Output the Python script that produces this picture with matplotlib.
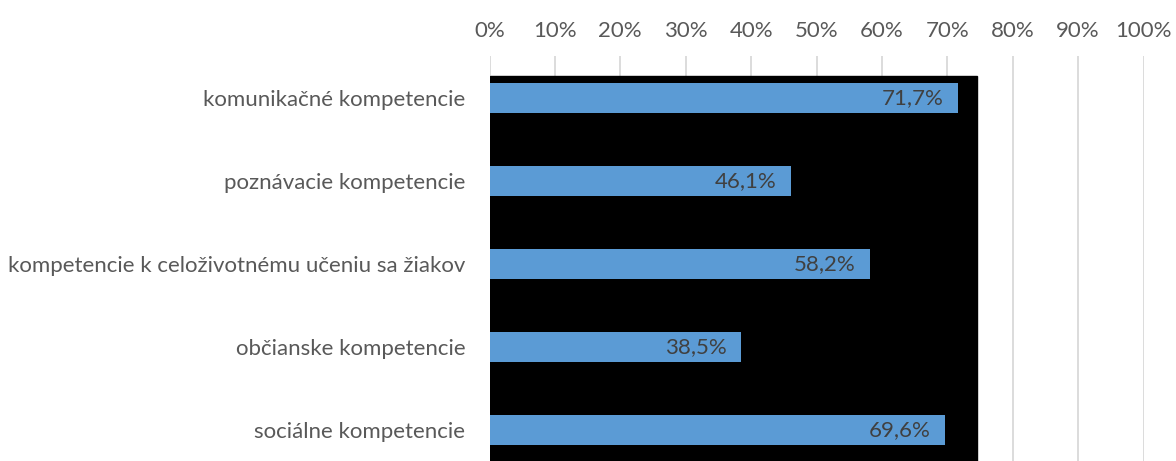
import matplotlib.pyplot as plt
from matplotlib.patches import Rectangle

categories = ["komunikačné kompetencie", "poznávacie kompetencie",
              "kompetencie k celoživotnému učeniu sa žiakov",
              "občianske kompetencie", "sociálne kompetencie"]
values = [71.7, 46.1, 58.2, 38.5, 69.6]
labels = ["71,7%", "46,1%", "58,2%", "38,5%", "69,6%"]
ticks = [0, 10, 20, 30, 40, 50, 60, 70, 80, 90, 100]

plt.rcParams['font.family'] = ['Lato', 'DejaVu Sans']

W, H = 1176, 461
fig = plt.figure(figsize=(W / 100, H / 100), dpi=100)
top_px = 56.5
ax = fig.add_axes([489.5 / W, 0, 654 / W, 1 - top_px / H])

band = 83.0
ypos = list(range(len(categories)))
ax.set_ylim(len(categories) - 0.5 - 10.5 / band, -0.5)
ax.set_xlim(0, 100)

# black block behind bars (as in the source image)
ax.add_patch(Rectangle((0, -0.5 + 19.5 / band), 74.6, 10, color="black", zorder=1))

ax.barh(ypos, values, height=0.35, color="#5B9BD5", zorder=2)
for y, v, t in zip(ypos, values, labels):
    ax.text(v - 2.2, y, t, ha="right", va="center", fontsize=16, color="#404040", zorder=3)

ax.set_xticks(ticks)
ax.set_xticklabels([f"{t}%" for t in ticks], fontsize=16, color="#595959")
ax.xaxis.tick_top()
ax.tick_params(axis="x", length=0, pad=11)
ax.set_yticks(ypos)
ax.set_yticklabels(categories, fontsize=16, color="#595959")
ax.tick_params(axis="y", length=0, pad=17.5)
ax.grid(axis="x", color="#D9D9D9", linewidth=1.3, zorder=0)
ax.set_axisbelow(True)
for s in ax.spines.values():
    s.set_visible(False)

fig.savefig("out.png", dpi=100)
